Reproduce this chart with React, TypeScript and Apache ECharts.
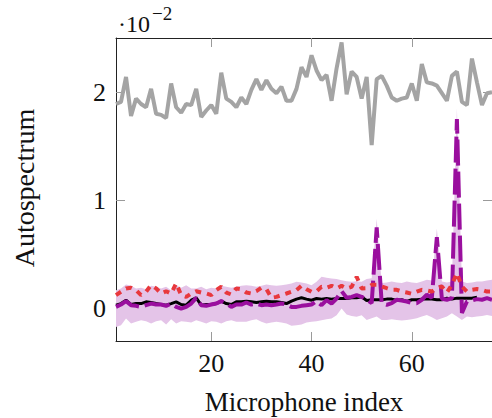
import React, { useEffect, useRef } from "react";
import * as echarts from "echarts";

// Values are in units of 10^-2 (as shown by the axis multiplier).
const micIndex: number[] = Array.from({ length: 76 }, (_, k) => k + 1);

const grayLine = [
  1.89, 1.91, 2.14, 1.78, 1.94, 1.89, 1.86, 2.03, 1.8, 1.79, 1.76, 2.08, 1.86, 1.81, 1.89, 1.88, 2.03, 1.77, 1.83, 1.88, 1.8, 2.18, 1.94, 1.91, 1.86,
  1.95, 1.89, 2.02, 2.12, 2.02, 2.11, 2.03, 1.99, 2.05, 1.92, 1.92, 2.03, 2.23, 2.14, 2.34, 2.2, 2.11, 2.16, 1.92, 2.22, 2.46, 1.98, 2.19, 2.14, 1.94,
  2.14, 1.51, 2.12, 2.15, 2.06, 1.95, 1.92, 1.94, 1.95, 2.08, 1.92, 2.26, 2.09, 2.08, 2.06, 1.99, 1.92, 2.15, 2.19, 1.91, 1.88, 2.31, 2.09, 1.88, 1.99, 2.0,
];

const blackLine = [
  0.031, 0.046, 0.077, 0.037, 0.046, 0.046, 0.062, 0.056, 0.046, 0.037, 0.031, 0.046, 0.062, 0.037, 0.031, 0.077, 0.099, 0.031, 0.037, 0.037, 0.046, 0.068, 0.046, 0.037, 0.062,
  0.062, 0.068, 0.062, 0.056, 0.062, 0.068, 0.062, 0.062, 0.056, 0.046, 0.068, 0.087, 0.099, 0.087, 0.077, 0.093, 0.087, 0.093, 0.087, 0.093, 0.093, 0.093, 0.099, 0.099, 0.108,
  0.074, 0.081, 0.081, 0.081, 0.087, 0.087, 0.074, 0.081, 0.065, 0.081, 0.081, 0.087, 0.087, 0.087, 0.081, 0.081, 0.096, 0.087, 0.096, 0.096, 0.096, 0.096, 0.105, null, null, null,
];

const purpleLine = [
  0.015, 0.037, 0.068, 0.031, 0.025, 0.015, 0.031, 0.046, 0.037, 0.037, 0.025, 0.046, 0.015, 0.0, 0.015, 0.046, 0.099, 0.031, 0.025, 0.037, 0.046, 0.068, 0.046, 0.015, 0.037,
  0.037, 0.056, 0.037, 0.046, 0.031, 0.037, 0.031, 0.037, 0.046, 0.037, 0.015, 0.015, 0.025, 0.031, 0.037, 0.068, 0.031, 0.077, 0.046, 0.093, 0.161, 0.1, 0.108, 0.124, 0.108,
  0.081, 0.05, 0.75, 0.05, 0.034, 0.05, 0.081, 0.074, 0.065, 0.05, 0.05, 0.081, 0.127, 0.1, 0.66, 0.09, 0.081, 0.096, 1.75, -0.04, 0.065, 0.074, 0.087, 0.081, 0.096, 0.081,
];

const redLine = [
  0.124, 0.155, 0.186, 0.192, 0.17, 0.124, 0.155, 0.216, 0.186, 0.139, 0.16, 0.139, 0.232, 0.124, 0.108, 0.139, 0.16, 0.148, 0.139, 0.124, 0.17, 0.201, 0.148, 0.13, 0.186,
  0.179, 0.148, 0.139, 0.16, 0.192, 0.179, 0.099, 0.108, 0.124, 0.139, 0.155, 0.17, 0.21, 0.179, 0.155, 0.16, 0.201, 0.192, 0.21, 0.186, 0.21, 0.186, 0.201, 0.293, 0.186,
  0.188, 0.219, 0.219, 0.204, 0.188, 0.173, 0.173, 0.157, 0.148, 0.136, 0.157, 0.173, 0.167, 0.157, 0.188, 0.204, 0.148, 0.219, 0.327, 0.204, 0.157, 0.173, 0.18, 0.173, 0.157, 0.157,
];

const bandUpper = [
  0.17, 0.186, 0.222, 0.21, 0.186, 0.192, 0.179, 0.21, 0.201, 0.186, 0.201, 0.17, 0.216, 0.192, 0.216, 0.186, 0.186, 0.201, 0.179, 0.192, 0.186, 0.21, 0.201, 0.192, 0.201,
  0.21, 0.216, 0.21, 0.201, 0.21, 0.222, 0.216, 0.21, 0.216, 0.222, 0.232, 0.247, 0.241, 0.232, 0.216, 0.247, 0.293, 0.284, 0.278, 0.272, 0.262, 0.253, 0.247, 0.253, 0.247,
  0.272, 0.281, 0.83, 0.235, 0.241, 0.25, 0.241, 0.235, 0.25, 0.241, 0.235, 0.25, 0.266, 0.26, 0.74, 0.25, 0.241, 0.25, 1.85, 0.25, 0.235, 0.241, 0.25, 0.25, 0.26, 0.266,
];

const bandLower = [
  -0.17, -0.154, -0.093, -0.139, -0.123, -0.108, -0.117, -0.139, -0.117, -0.108, -0.148, -0.1, -0.139, -0.117, -0.123, -0.13, -0.108, -0.123, -0.139, -0.117, -0.123, -0.139, -0.117, -0.108, -0.123,
  -0.123, -0.123, -0.108, -0.1, -0.123, -0.139, -0.13, -0.123, -0.13, -0.139, -0.16, -0.154, -0.148, -0.13, -0.123, -0.117, -0.108, -0.1, -0.093, -0.062, 0.0, -0.055, -0.068, -0.077, -0.062,
  -0.105, -0.09, -0.074, -0.105, -0.105, -0.099, -0.105, -0.11, -0.105, -0.099, -0.09, -0.074, -0.059, -0.08, -0.105, -0.09, -0.074, -0.043, -0.074, -0.105, -0.074, -0.08, -0.074, -0.068, -0.059, -0.068,
];

const xTicks = [20, 40, 60];
const yTicks = [0, 1, 2];

const FONT = "'Liberation Serif', 'Times New Roman', serif";

function pairs(arr: (number | null)[]) {
  return micIndex.map((x, k) => [x, arr[k]]);
}

export default function App() {
  const ref = useRef<HTMLDivElement>(null);

  useEffect(() => {
    if (!ref.current) return;
    const chart = echarts.init(ref.current, undefined, { renderer: "svg" });

    const axisLineStyle = { color: "#222", width: 1 };
    const tickStyle = { color: "#9a9a9a", width: 1 };

    const xAxisCommon = {
      type: "value" as const,
      min: 1,
      max: 76,
      splitLine: { show: false },
      axisLine: { show: true, onZero: false, lineStyle: axisLineStyle },
      axisTick: { show: true, inside: true, length: 9, customValues: xTicks, lineStyle: tickStyle },
    };
    const yAxisCommon = {
      type: "value" as const,
      min: -0.3,
      max: 2.5,
      splitLine: { show: false },
      axisLine: { show: true, onZero: false, lineStyle: axisLineStyle },
      axisTick: { show: true, inside: true, length: 9, customValues: yTicks, lineStyle: tickStyle },
    };

    const bandData = micIndex.map((x, k) => [x, bandLower[k], bandUpper[k]]);

    chart.setOption({
      animation: false,
      grid: { left: 116, top: 38, width: 378, height: 303, containLabel: false },
      xAxis: [
        {
          ...xAxisCommon,
          position: "bottom",
          axisLabel: {
            show: true,
            customValues: xTicks,
            margin: 9,
            color: "#111",
            fontSize: 26,
            fontFamily: FONT,
          },
        },
        { ...xAxisCommon, position: "top", axisLabel: { show: false } },
      ],
      yAxis: [
        {
          ...yAxisCommon,
          position: "left",
          axisLabel: {
            show: true,
            customValues: yTicks,
            margin: 10,
            color: "#111",
            fontSize: 26,
            fontFamily: FONT,
            formatter: (v: number) => String(v),
          },
        },
        { ...yAxisCommon, position: "right", axisLabel: { show: false } },
      ],
      series: [
        {
          name: "band",
          type: "custom",
          data: bandData,
          encode: { x: 0, y: [1, 2] },
          silent: true,
          clip: true,
          z: 1,
          renderItem: (params: any, api: any) => {
            if (params.dataIndex !== 0) return null;
            const pts: number[][] = [];
            for (let k = 0; k < bandData.length; k++) {
              pts.push(api.coord([bandData[k][0], bandData[k][2]]));
            }
            for (let k = bandData.length - 1; k >= 0; k--) {
              pts.push(api.coord([bandData[k][0], bandData[k][1]]));
            }
            return {
              type: "polygon",
              shape: { points: pts },
              style: { fill: "#e4c4e8", stroke: "none" },
            };
          },
        },
        {
          name: "gray",
          type: "line",
          data: pairs(grayLine),
          showSymbol: false,
          symbol: "none",
          lineStyle: { color: "#a4a4a4", width: 4 },
          silent: true,
          z: 2,
        },
        {
          name: "black",
          type: "line",
          data: pairs(blackLine),
          showSymbol: false,
          symbol: "none",
          lineStyle: { color: "#000000", width: 3 },
          silent: true,
          z: 3,
        },
        {
          name: "purple",
          type: "line",
          data: pairs(purpleLine),
          showSymbol: false,
          symbol: "none",
          lineStyle: { color: "#9a0f9e", width: 4, type: [26, 6], cap: "butt" },
          silent: true,
          z: 4,
        },
        {
          name: "red",
          type: "line",
          data: pairs(redLine),
          showSymbol: false,
          symbol: "none",
          lineStyle: { color: "#e8383d", width: 4, type: [6, 6], cap: "butt" },
          silent: true,
          z: 5,
        },
      ],
      graphic: [
        {
          type: "text",
          x: 118,
          y: 24,
          style: {
            text: "·10",
            fontSize: 24,
            fontFamily: FONT,
            fill: "#111",
            align: "left",
            verticalAlign: "middle",
          },
        },
        {
          type: "text",
          x: 152,
          y: 13,
          style: {
            text: "−2",
            fontSize: 19,
            fontFamily: FONT,
            fill: "#111",
            align: "left",
            verticalAlign: "middle",
          },
        },
        {
          type: "text",
          x: 304,
          y: 402,
          style: {
            text: "Microphone index",
            fontSize: 27,
            fontFamily: FONT,
            fill: "#111",
            align: "center",
            verticalAlign: "middle",
          },
        },
        {
          type: "text",
          x: 24,
          y: 188,
          rotation: Math.PI / 2,
          style: {
            text: "Autospectrum",
            fontSize: 28,
            fontFamily: FONT,
            fill: "#111",
            align: "center",
            verticalAlign: "middle",
          },
        },
      ],
    });

    return () => chart.dispose();
  }, []);

  return (
    <div
      ref={ref}
      style={{ position: "fixed", left: 0, top: 0, width: 492, height: 418, background: "#fff" }}
    />
  );
}
